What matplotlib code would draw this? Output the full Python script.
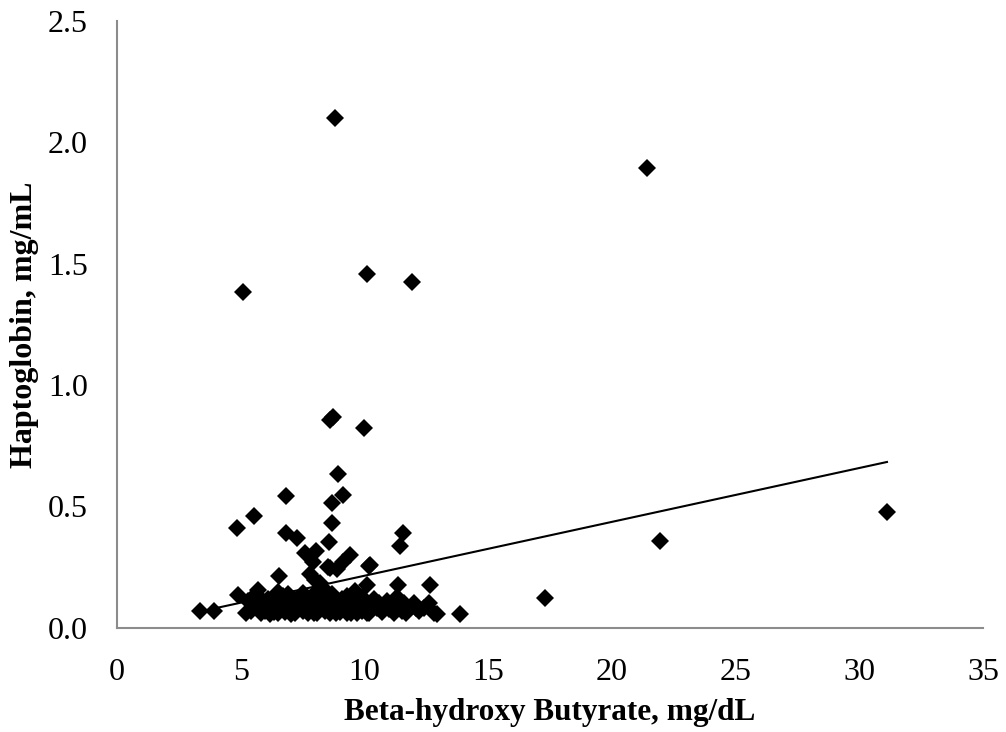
import matplotlib
matplotlib.use('Agg')
import matplotlib.pyplot as plt
import numpy as np

# Beta-hydroxy butyrate (mg/dL) vs haptoglobin (mg/mL)
bhb_high = [8.81, 21.42, 10.10, 11.91, 5.08, 8.62, 8.72, 10.00, 8.92, 6.83,
            9.15, 8.68, 5.54, 4.86, 8.68, 6.83, 11.55, 7.26, 31.12, 21.95,
            8.57, 11.44, 7.60, 8.04, 9.42, 7.93, 9.15, 10.20, 8.60, 8.88,
            6.56, 8.00, 17.30, 13.86, 3.35, 3.92, 10.12, 11.37, 12.65, 5.71,
            4.88, 11.30, 12.92, 6.52, 8.53, 10.23, 7.80, 8.20, 9.60, 8.35]
hp_high = [2.100, 1.894, 1.457, 1.426, 1.382, 0.855, 0.868, 0.824, 0.633, 0.541,
           0.547, 0.513, 0.460, 0.410, 0.430, 0.391, 0.392, 0.368, 0.477, 0.357,
           0.353, 0.337, 0.306, 0.316, 0.298, 0.272, 0.272, 0.254, 0.245, 0.240,
           0.213, 0.197, 0.122, 0.056, 0.069, 0.069, 0.176, 0.176, 0.176, 0.155,
           0.135, 0.128, 0.056, 0.148, 0.251, 0.258, 0.220, 0.185, 0.150, 0.160]

# dense cluster near the bottom
bhb_low = [5.20, 5.30, 5.50, 5.60, 5.80, 5.90, 6.00, 6.10, 6.20, 6.30,
           6.40, 6.50, 6.60, 6.70, 6.80, 6.90, 7.00, 7.10, 7.20, 7.30,
           7.40, 7.50, 7.60, 7.70, 7.80, 7.90, 8.00, 8.10, 8.20, 8.30,
           8.40, 8.50, 8.60, 8.70, 8.80, 8.90, 9.00, 9.10, 9.20, 9.30,
           9.40, 9.50, 9.60, 9.70, 9.80, 9.90, 10.00, 10.20, 10.40, 10.50,
           10.70, 10.90, 11.00, 11.20, 11.40, 11.50, 11.70, 11.90, 12.00, 12.20,
           12.40, 12.60, 12.80, 5.40, 5.70, 6.05, 6.35, 6.75, 7.05, 7.35,
           7.65, 7.95, 8.25, 8.55, 8.85, 9.15, 9.45, 9.75, 10.10, 10.60,
           11.10, 11.60, 12.10, 6.90, 7.50, 8.10, 8.70, 9.30, 9.90, 10.30]
hp_low = [0.060, 0.110, 0.080, 0.140, 0.060, 0.100, 0.070, 0.120, 0.055, 0.090,
          0.110, 0.060, 0.080, 0.130, 0.065, 0.100, 0.075, 0.120, 0.060, 0.090,
          0.110, 0.070, 0.130, 0.060, 0.100, 0.080, 0.120, 0.060, 0.090, 0.110,
          0.070, 0.125, 0.060, 0.095, 0.080, 0.110, 0.065, 0.120, 0.090, 0.060,
          0.100, 0.075, 0.115, 0.060, 0.090, 0.070, 0.100, 0.060, 0.120, 0.080,
          0.065, 0.110, 0.075, 0.060, 0.095, 0.070, 0.060, 0.085, 0.100, 0.070,
          0.080, 0.100, 0.060, 0.070, 0.090, 0.105, 0.065, 0.095, 0.055, 0.105,
          0.080, 0.060, 0.100, 0.070, 0.060, 0.095, 0.060, 0.085, 0.060, 0.100,
          0.090, 0.100, 0.080, 0.140, 0.145, 0.150, 0.140, 0.130, 0.125, 0.085]

# linear trendline as drawn on the chart
trend_slope = 0.0222
trend_intercept = -0.008

plt.rcParams['font.family'] = ['Liberation Serif', 'DejaVu Serif']

bhb = np.array(bhb_high + bhb_low)
hp = np.array(hp_high + hp_low)

fig = plt.figure(figsize=(10.06, 7.32), dpi=100)
ax = fig.add_axes([0.1163, 0.1425, 0.8608, 0.8288])

ax.plot(bhb, hp, linestyle='none', marker='D', markersize=9.5,
        color='black', markeredgewidth=0)

line_x = np.array([bhb.min(), bhb.max()])
ax.plot(line_x, trend_slope * line_x + trend_intercept, color='black', linewidth=1.5)

ax.set_xlim(0, 35)
ax.set_ylim(0, 2.5)
ax.set_xticks(np.arange(0, 36, 5))
ax.set_yticks(np.arange(0, 2.51, 0.5))
ax.set_yticklabels([f'{v:.1f}' for v in np.arange(0, 2.51, 0.5)])
ax.tick_params(length=0, labelsize=23)
ax.tick_params(axis='y', pad=21)
ax.tick_params(axis='x', pad=22)

for side in ['top', 'right']:
    ax.spines[side].set_visible(False)
for side in ['left', 'bottom']:
    ax.spines[side].set_color('#8c8c8c')
    ax.spines[side].set_linewidth(1.5)

ax.set_xlabel('Beta-hydroxy Butyrate, mg/dL', fontsize=22.5, fontweight='bold', labelpad=8)
ax.set_ylabel('Haptoglobin, mg/mL', fontsize=23, fontweight='bold')
ax.yaxis.set_label_coords(-0.09, 0.5)

fig.savefig('out.png', dpi=100)
